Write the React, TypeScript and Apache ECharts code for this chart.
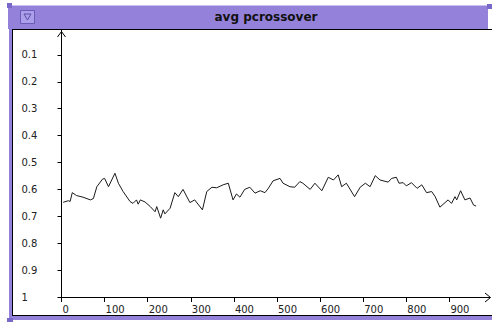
import React, { useEffect, useRef } from "react";
import * as echarts from "echarts";

const generations = [
  4, 16, 20, 25, 35, 50, 67, 74, 82, 95, 100, 109, 124, 132, 143, 159, 166, 174, 178, 183,
  194, 206, 217, 221, 230, 236, 240, 252, 263, 271, 282, 298, 309, 327, 337, 349, 360, 375,
  387, 398, 406, 414, 425, 437, 449, 461, 472, 479, 491, 507, 514, 530, 541, 553, 560, 577,
  588, 604, 619, 631, 642, 650, 661, 680, 693, 705, 716, 728, 739, 758, 766, 777, 783, 793,
  800, 812, 825, 836, 847, 859, 867, 878, 890, 897, 905, 913, 917, 926, 936, 948, 956, 962,
];
const pcrossover = [
  0.648, 0.642, 0.645, 0.612, 0.623, 0.629, 0.639, 0.634, 0.59, 0.562, 0.559, 0.59, 0.54,
  0.577, 0.608, 0.645, 0.652, 0.639, 0.655, 0.639, 0.647, 0.664, 0.683, 0.664, 0.707, 0.676,
  0.691, 0.67, 0.612, 0.627, 0.6, 0.649, 0.639, 0.676, 0.608, 0.592, 0.594, 0.583, 0.577,
  0.639, 0.617, 0.629, 0.6, 0.592, 0.614, 0.605, 0.612, 0.598, 0.568, 0.559, 0.577, 0.59,
  0.592, 0.571, 0.577, 0.6, 0.577, 0.605, 0.555, 0.565, 0.546, 0.59, 0.577, 0.627, 0.592,
  0.577, 0.59, 0.549, 0.565, 0.573, 0.559, 0.555, 0.577, 0.575, 0.587, 0.575, 0.596, 0.583,
  0.612, 0.608, 0.627, 0.666, 0.649, 0.639, 0.652, 0.627, 0.639, 0.605, 0.639, 0.632, 0.658,
  0.662,
];
const xTicks = [0, 100, 200, 300, 400, 500, 600, 700, 800, 900];
const yTicks = [0.1, 0.2, 0.3, 0.4, 0.5, 0.6, 0.7, 0.8, 0.9, 1];
const title = "avg pcrossover";

const PURPLE = "#9482da";

export default function App() {
  const ref = useRef<HTMLDivElement>(null);
  useEffect(() => {
    const chart = echarts.init(ref.current!, null, { renderer: "svg" });
    const data = generations.map((g, i) => [g, pcrossover[i]]);
    chart.setOption({
      animation: false,
      backgroundColor: "#ffffff",
      grid: { left: 61.5, top: 28, width: 428.4, height: 269 },
      xAxis: {
        type: "value",
        min: 0,
        max: 994,
        splitLine: { show: false },
        axisLine: { show: true, onZero: false, lineStyle: { color: "#000", width: 1 } },
        axisTick: {
          show: true,
          length: 5,
          inside: false,
          customValues: xTicks,
          lineStyle: { color: "#000" },
        },
        axisLabel: {
          customValues: xTicks,
          align: "left",
          margin: 7,
          padding: [0, 0, 0, 1],
          color: "#222",
          fontFamily: "DejaVu Sans",
          fontSize: 10,
        },
      },
      yAxis: {
        type: "value",
        inverse: true,
        min: 0,
        max: 1,
        splitLine: { show: false },
        axisLine: { show: true, onZero: false, lineStyle: { color: "#000", width: 1 } },
        axisTick: { show: true, length: 4, customValues: yTicks, lineStyle: { color: "#000" } },
        axisLabel: {
          customValues: yTicks,
          formatter: (v: number) => String(Math.round(v * 10) / 10),
          align: "left",
          margin: 40,
          padding: [0, 0, 7, 0],
          color: "#222",
          fontFamily: "DejaVu Sans",
          fontSize: 10,
        },
      },
      series: [
        {
          type: "line",
          data,
          showSymbol: false,
          symbol: "none",
          lineStyle: { color: "#1a1a1a", width: 1 },
          z: 3,
        },
      ],
      graphic: [
        { type: "rect", shape: { x: 9, y: 5, width: 4, height: 314 }, style: { fill: PURPLE }, z: 1 },
        { type: "rect", shape: { x: 9, y: 316, width: 483, height: 4 }, style: { fill: PURPLE }, z: 1 },
        { type: "rect", shape: { x: 8, y: 5, width: 480, height: 24 }, style: { fill: PURPLE }, z: 1 },
        { type: "line", shape: { x1: 12, y1: 5.5, x2: 488, y2: 5.5 }, style: { stroke: "#c9c0f0", lineWidth: 1 }, z: 2 },
        { type: "rect", shape: { x: 7, y: 3, width: 5, height: 5 }, style: { fill: "#7a68c8" }, z: 2 },
        { type: "rect", shape: { x: 487, y: 4, width: 5, height: 5 }, style: { fill: "#7a68c8" }, z: 2 },
        { type: "rect", shape: { x: 7, y: 318, width: 6, height: 4 }, style: { fill: "#7a68c8" }, z: 2 },
        { type: "line", shape: { x1: 12, y1: 29.5, x2: 492, y2: 29.5 }, style: { stroke: "#000", lineWidth: 1 }, z: 2 },
        { type: "line", shape: { x1: 12.5, y1: 29, x2: 12.5, y2: 316 }, style: { stroke: "#000", lineWidth: 1 }, z: 2 },
        { type: "line", shape: { x1: 12, y1: 315.5, x2: 492, y2: 315.5 }, style: { stroke: "#000", lineWidth: 1 }, z: 2 },
        {
          type: "rect",
          shape: { x: 20.5, y: 10.5, width: 14, height: 13 },
          style: { fill: "#ab9eea", stroke: "#6c5cb8", lineWidth: 1 },
          z: 2,
        },
        {
          type: "polygon",
          shape: { points: [[24, 14], [31, 14], [27.5, 20]] },
          style: { fill: "none", stroke: "#5c4ca8", lineWidth: 1 },
          z: 3,
        },
        {
          type: "text",
          x: 266,
          y: 17,
          style: {
            text: title,
            fill: "#111",
            font: "bold 12px 'DejaVu Sans'",
            align: "center",
            verticalAlign: "middle",
          },
          z: 3,
        },
        {
          type: "polyline",
          shape: { points: [[57.5, 37], [61.5, 31.5], [65.5, 37]] },
          style: { fill: "none", stroke: "#000", lineWidth: 1 },
          z: 3,
        },
        {
          type: "polyline",
          shape: { points: [[485, 293], [490.5, 297.5], [485, 302]] },
          style: { fill: "none", stroke: "#000", lineWidth: 1 },
          z: 3,
        },
      ],
    });
    return () => chart.dispose();
  }, []);
  return (
    <div
      ref={ref}
      style={{ position: "fixed", left: 0, top: 0, width: 492, height: 322 }}
    />
  );
}
